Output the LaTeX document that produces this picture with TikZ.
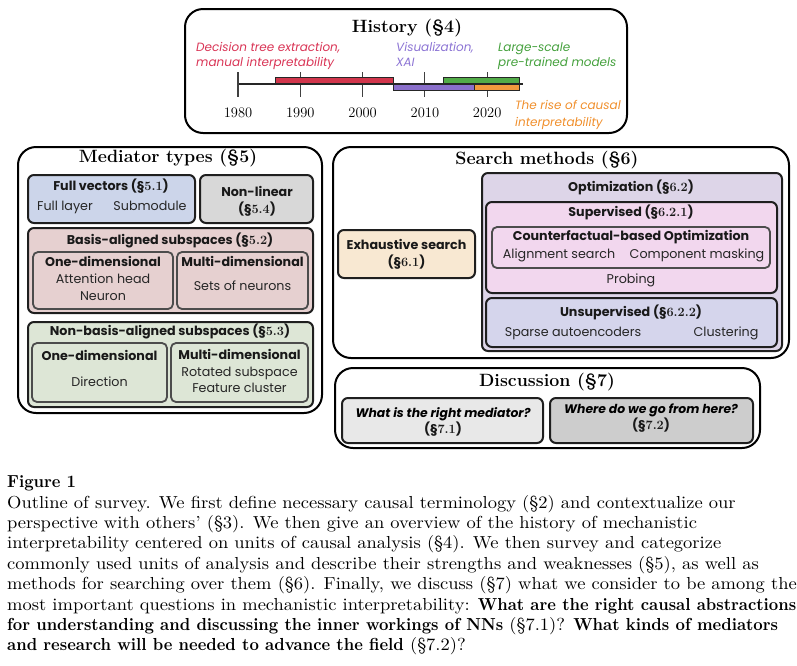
\documentclass[tikz,border=0pt]{standalone}
\usepackage{fontspec}
\setsansfont{Poppins}
\newfontfamily\capreg{lmroman10-regular.otf}[FakeStretch=1.063]
\newfontfamily\capbold{lmroman10-bold.otf}[FakeStretch=0.94]
\usetikzlibrary{fit}
\definecolor{cFull}{HTML}{CCD5EA}
\definecolor{cNonlin}{HTML}{D8D8D8}
\definecolor{cBasis}{HTML}{E6D0D0}
\definecolor{cNonbasis}{HTML}{DDE6D6}
\definecolor{cExh}{HTML}{F8E8D2}
\definecolor{cOpt}{HTML}{DDD5E8}
\definecolor{cSup}{HTML}{F2D7EE}
\definecolor{cUnsup}{HTML}{D5D5EC}
\definecolor{cDisA}{HTML}{E8E8E8}
\definecolor{cDisB}{HTML}{CDCDCD}
\definecolor{tRed}{HTML}{D93455}
\definecolor{tPurple}{HTML}{8C74D4}
\definecolor{tGreen}{HTML}{44A03C}
\definecolor{tOrange}{HTML}{F08F2C}
\definecolor{bRed}{HTML}{D2364C}
\definecolor{bPurple}{HTML}{8A6FCB}
\definecolor{bGreen}{HTML}{52AC48}
\definecolor{bOrange}{HTML}{F29A3E}
\newcommand\secnum[1]{(§{\rmfamily #1})}
\newcommand\cb[1]{{\capbold #1}}
\tikzset{
  ttl/.style={font=\rmfamily\bfseries\fontsize{17.8}{20}\selectfont, inner sep=0, text height=12pt, text depth=3pt},
  hd/.style={font=\sffamily\bfseries\fontsize{12.7}{14}\selectfont, inner sep=0, text height=9.5pt, text depth=2.5pt, text=black!90},
  tx/.style={font=\sffamily\fontsize{12.7}{14}\selectfont, inner sep=0, text height=9.5pt, text depth=2.5pt, text=black!85},
  hdbi/.style={font=\sffamily\bfseries\itshape\fontsize{12.4}{14}\selectfont, inner sep=0, text height=9.5pt, text depth=2.5pt},
  tl/.style={font=\sffamily\itshape\fontsize{12}{14}\selectfont, inner sep=0, anchor=base west},
  yr/.style={font=\rmfamily\fontsize{14.5}{16}\selectfont, inner sep=0, text height=10pt, text depth=0pt},
  captxt/.style={font=\capreg\fontsize{17.4}{20}\selectfont, inner sep=0, anchor=base west},
  obox/.style={draw=black, line width=2pt, rounded corners=18pt, inner sep=0},
  ibox/.style={draw=black!88, line width=2pt, rounded corners=6pt, inner sep=0},
  sbox/.style={draw=black!70, line width=1.8pt, rounded corners=5pt, inner sep=0},
  bar/.style={draw=black!85, line width=1.2pt},
}
\begin{document}
\begin{tikzpicture}[x=1pt, y=-1pt]
\useasboundingbox (0,0) rectangle (797,665);

% ---------------- History ----------------
\node[obox, fit={(185,9)(627,133)}] (hist) {};
\node[ttl] (histT) at (407,28) {History (§4)};
% timeline
\coordinate (axL) at (237,84);
\coordinate (axR) at (523,84);
\draw[line width=1.2pt, black!85] (axL) -- (axR);
\foreach \yy/\xx in {1980/238, 1990/300.3, 2000/362.6, 2010/424.9, 2020/487.2}{
  \coordinate (tk\yy) at (\xx,84);
  \draw[line width=1.1pt, black!75] (\xx,72) -- (\xx,97);
  \node[yr] (yl\yy) at (\xx,112) {\yy};
}
\filldraw[bar, fill=bRed]    (275.4,77.5) rectangle (393.8,84);
\filldraw[bar, fill=bGreen]  (443.6,77.5) rectangle (519.5,84);
\filldraw[bar, fill=bPurple] (393.8,84) rectangle (474.7,90.5);
\filldraw[bar, fill=bOrange] (474.7,84) rectangle (519.5,90.5);
\node[tl, text=tRed] (lRed1) at (196,51) {Decision tree extraction,};
\node[tl, text=tRed] (lRed2) at (196,66) {manual interpretability};
\node[tl, text=tPurple] (lPur1) at (396,51) {Visualization,};
\node[tl, text=tPurple] (lPur2) at (396,66) {XAI};
\node[tl, text=tGreen] (lGr1) at (498,51) {Large-scale};
\node[tl, text=tGreen] (lGr2) at (498,66) {pre-trained models};
\node[tl, text=tOrange] (lOr1) at (515,109) {The rise of causal};
\node[tl, text=tOrange] (lOr2) at (515,126) {interpretability};

% ---------------- Mediator types ----------------
\node[obox, fit={(18,147)(322,413)}] (med) {};
\node[ttl] (medT) at (168,158) {Mediator types (§5)};
\node[ibox, fill=cFull, fit={(28,175)(195,223)}] (full) {};
\node[hd] (fullT) at (111,187) {Full vectors \secnum{5.1}};
\node[tx] (fullA) at (65,207) {Full layer};
\node[tx] (fullB) at (150,207) {Submodule};
\node[ibox, fill=cNonlin, fit={(200,175)(313,223)}] (nonlin) {};
\node[hd] (nonlinT) at (257,193) {Non-linear};
\node[hd] (nonlinS) at (257,210) {\secnum{5.4}};

\node[ibox, fill=cBasis, fit={(28,228)(313,313)}] (basis) {};
\node[hd] (basisT) at (170,241) {Basis-aligned subspaces \secnum{5.2}};
\node[sbox, fill=cBasis, fit={(33,252)(173,309)}] (basisA) {};
\node[hd] (basisAT) at (103,263) {One-dimensional};
\node[tx] (basisA1) at (103,280) {Attention head};
\node[tx] (basisA2) at (103,297) {Neuron};
\node[sbox, fill=cBasis, fit={(177,252)(308,309)}] (basisB) {};
\node[hd] (basisBT) at (242.5,263) {Multi-dimensional};
\node[tx] (basisB1) at (242.5,287) {Sets of neurons};

\node[ibox, fill=cNonbasis, fit={(28,322)(313,407)}] (nbasis) {};
\node[hd] (nbasisT) at (170,332) {Non-basis-aligned subspaces \secnum{5.3}};
\node[sbox, fill=cNonbasis, fit={(32,343)(167,402)}] (nbasisA) {};
\node[hd] (nbasisAT) at (99.5,357) {One-dimensional};
\node[tx] (nbasisA1) at (99.5,383) {Direction};
\node[sbox, fill=cNonbasis, fit={(171,343)(308,402)}] (nbasisB) {};
\node[hd] (nbasisBT) at (239.5,356) {Multi-dimensional};
\node[tx] (nbasisB1) at (239.5,373) {Rotated subspace};
\node[tx] (nbasisB2) at (239.5,389) {Feature cluster};

% ---------------- Search methods ----------------
\node[obox, fit={(333,147)(789,358)}] (search) {};
\node[ttl] (searchT) at (547,160) {Search methods (§6)};
\node[ibox, fill=cExh, fit={(338,230)(475,278)}] (exh) {};
\node[hd] (exhT) at (406.5,246) {Exhaustive search};
\node[hd] (exhS) at (406.5,263) {\secnum{6.1}};

\node[ibox, fill=cOpt, fit={(482,173)(782,351)}] (opt) {};
\node[hd] (optT) at (631,188) {Optimization \secnum{6.2}};
\node[ibox, fill=cSup, fit={(486,202)(777,293)}] (sup) {};
\node[hd] (supT) at (631,213) {Supervised \secnum{6.2.1}};
\node[sbox, fill=cSup, fit={(492,227)(770,268)}] (cf) {};
\node[hd] (cfT) at (631,237) {Counterfactual-based Optimization};
\node[tx] (cfA) at (559,255) {Alignment search};
\node[tx] (cfB) at (697,255) {Component masking};
\node[tx] (prob) at (631,280) {Probing};
\node[ibox, fill=cUnsup, fit={(486,298)(777,347)}] (unsup) {};
\node[hd] (unsupT) at (631,313) {Unsupervised \secnum{6.2.2}};
\node[tx] (unsupA) at (573,333) {Sparse autoencoders};
\node[tx] (unsupB) at (726,333) {Clustering};

% ---------------- Discussion ----------------
\node[obox, fit={(335,368)(760,448)}] (disc) {};
\node[ttl] (discT) at (547,382) {Discussion (§7)};
\node[ibox, fill=cDisA, fit={(342,398)(543,443)}] (discA) {};
\node[hdbi] (discAT) at (443,414) {What is the right mediator?};
\node[hd] (discAS) at (443,430) {\secnum{7.1}};
\node[ibox, fill=cDisB, fit={(550,398)(753,443)}] (discB) {};
\node[hdbi] (discBT) at (651,410) {Where do we go from here?};
\node[hd] (discBS) at (651,426) {\secnum{7.2}};

% ---------------- Caption ----------------
\node[captxt, font=\capbold\fontsize{17.4}{20}\selectfont] (fig) at (7,487) {Figure 1};
\node[captxt] (c1) at (7,508) {Outline of survey. We first define necessary causal terminology (§2) and contextualize our};
\node[captxt] (c2) at (7,528.4) {perspective with others’ (§3). We then give an overview of the history of mechanistic};
\node[captxt] (c3) at (7,548.8) {interpretability centered on units of causal analysis (§4). We then survey and categorize};
\node[captxt] (c4) at (7,569.2) {commonly used units of analysis and describe their strengths and weaknesses (§5), as well as};
\node[captxt] (c5) at (7,589.6) {methods for searching over them (§6). Finally, we discuss (§7) what we consider to be among the};
\node[captxt] (c6) at (7,610) {most important questions in mechanistic interpretability: \cb{What are the right causal abstractions}};
\node[captxt] (c7) at (7,630.4) {\cb{for understanding and discussing the inner workings of NNs} (§7.1)? \cb{What kinds of mediators}};
\node[captxt] (c8) at (7,650.8) {\cb{and research will be needed to advance the field} (§7.2)?};
\end{tikzpicture}
\end{document}
